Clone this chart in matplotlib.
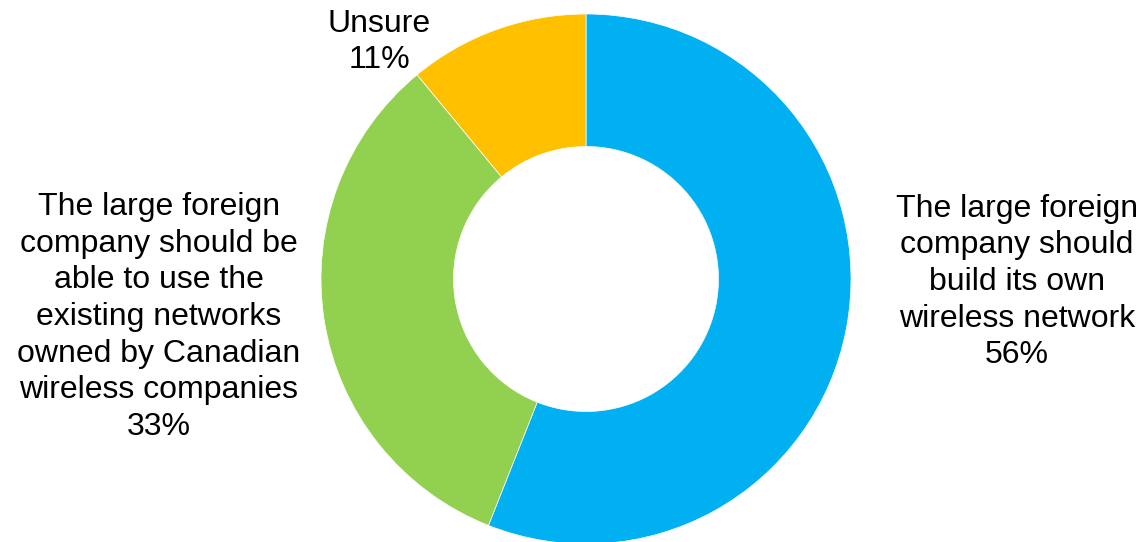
import matplotlib.pyplot as plt

# survey answers, clockwise from 12 o'clock
labels = [
    "The large foreign\ncompany should\nbuild its own\nwireless network",
    "The large foreign\ncompany should be\nable to use the\nexisting networks\nowned by Canadian\nwireless companies",
    "Unsure",
]
shares = [56, 33, 11]
colors = ["#00B0F0", "#92D050", "#FFC000"]

plt.rcParams['font.family'] = ['Liberation Sans', 'DejaVu Sans']

W, H = 1144, 542
fig = plt.figure(figsize=(W / 100, H / 100), dpi=100)
ax = fig.add_axes([0, 0, 1, 1])

cx, cy, r = 586, H - 279, 265
ax.pie(shares, colors=colors, startangle=90, counterclock=False,
       center=(cx, cy), radius=r, frame=True,
       wedgeprops=dict(width=r * 0.5, edgecolor='white', linewidth=0.5))
ax.set_xlim(0, W)
ax.set_ylim(0, H)
ax.set_aspect('equal')
ax.axis('off')

# label positions (pixel coords, y from bottom)
label_pos = [(1017, H - 282), (159, H - 317), (379, H - 42)]
for lab, val, (x, y) in zip(labels, shares, label_pos):
    ax.text(x, y, f"{lab}\n{val}%", ha='center', va='center',
            multialignment='center', fontsize=23, linespacing=1.29)

fig.savefig("out.png", dpi=100)
